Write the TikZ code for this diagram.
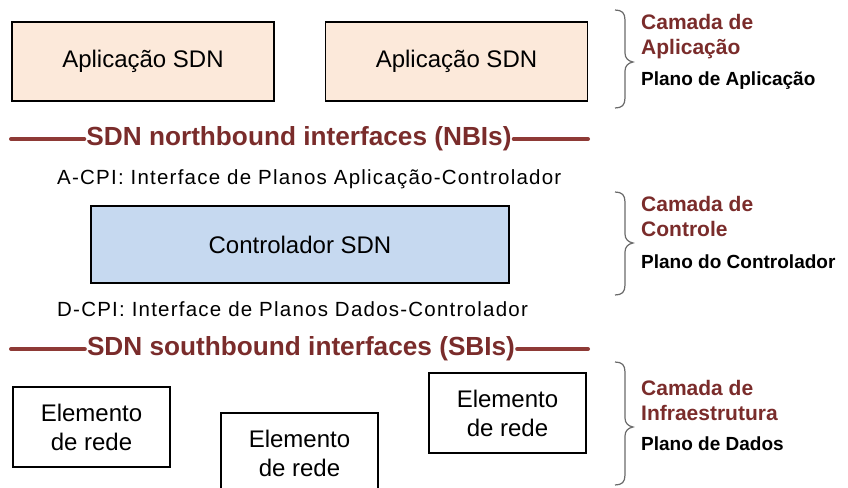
\documentclass[tikz,border=0pt]{standalone}
\usepackage{fontspec}
\setmainfont{Liberation Sans}
\definecolor{appfill}{HTML}{FCE9DA}
\definecolor{ctlfill}{HTML}{C6D9F0}
\definecolor{layerred}{HTML}{7A2C2B}
\definecolor{barred}{HTML}{8E3A36}
\definecolor{bracegray}{HTML}{6A6A6A}
\tikzset{
  boxbase/.style={draw=black, line width=1.5pt, inner sep=0pt, align=center},
  appbox/.style={boxbase, fill=appfill, minimum width=262pt, minimum height=79pt,
    font=\fontsize{24}{28}\selectfont},
  ctlbox/.style={boxbase, fill=ctlfill, minimum width=418pt, minimum height=77pt,
    font=\fontsize{24}{28}\selectfont},
  elembox/.style={boxbase, fill=white, minimum width=157pt, minimum height=80pt,
    font=\fontsize{24}{29}\selectfont},
  ifacetitle/.style={text=layerred, inner sep=2pt,
    font=\fontsize{26.2}{30}\selectfont\bfseries},
  ifacebar/.style={draw=barred, line width=4pt, line cap=round},
  cpitext/.style={anchor=west, inner sep=0pt,
    font=\fontsize{20.5}{24}\selectfont\addfontfeature{LetterSpace=6}},
  layername/.style={anchor=west, align=left, inner sep=0pt, text=layerred,
    font=\fontsize{21}{25}\selectfont\bfseries},
  planename/.style={anchor=west, inner sep=0pt,
    font=\fontsize{19}{23}\selectfont\bfseries},
  layerbrace/.style={draw=bracegray, line width=1.2pt}
}
\newcommand{\layerbrace}[3]{% top, tip, bottom (y values)
  \draw[layerbrace] (615,#1) .. controls (622,#1) and (625,#1+3) .. (625,#1+10)
    -- (625,#2-9) .. controls (625,#2-4) and (628,#2-1) .. (633,#2)
    .. controls (628,#2+1) and (625,#2+4) .. (625,#2+9)
    -- (625,#3-10) .. controls (625,#3-3) and (622,#3) .. (615,#3);}
\begin{document}
\begin{tikzpicture}[x=1pt,y=-1pt]
  \useasboundingbox (0,0) rectangle (848,487);

  % application layer
  \node[appbox] (app1) at (143,61.5) {Aplicação SDN};
  \node[appbox] (app2) at (456.5,61.5) {Aplicação SDN};

  % northbound interfaces
  \coordinate (nbiL) at (11,139);
  \coordinate (nbiR) at (588,139);
  \node[ifacetitle] (nbi) at (299,139) {SDN northbound interfaces (NBIs)};
  \draw[ifacebar] (nbiL) -- (nbi.west);
  \draw[ifacebar] (nbi.east) -- (nbiR);
  \node[cpitext] (acpi) at (57,179) {A-CPI: Interface de Planos Aplicação-Controlador};

  % control layer
  \node[ctlbox] (ctl) at (300,244.5) {Controlador SDN};
  \node[cpitext] (dcpi) at (57,309) {D-CPI: Interface de Planos Dados-Controlador};

  % southbound interfaces
  \coordinate (sbiL) at (11,349);
  \coordinate (sbiR) at (588,349);
  \node[ifacetitle] (sbi) at (301,349) {SDN southbound interfaces (SBIs)};
  \draw[ifacebar] (sbiL) -- (sbi.west);
  \draw[ifacebar] (sbi.east) -- (sbiR);

  % infrastructure layer
  \node[elembox] (ne1) at (91.5,427) {Elemento\\de rede};
  \node[elembox] (ne2) at (299.5,453) {Elemento\\de rede};
  \node[elembox] (ne3) at (507.5,413) {Elemento\\de rede};

  % layer braces and names
  \layerbrace{10}{62}{108}
  \layerbrace{192}{243}{295}
  \layerbrace{362}{427}{485}
  \node[layername] (lay1) at (641,37) {Camada de\\Aplicação};
  \node[planename] (pl1) at (641,81) {Plano de Aplicação};
  \node[layername] (lay2) at (641,216) {Camada de\\Controle};
  \node[planename] (pl2) at (641,262) {Plano do Controlador};
  \node[layername] (lay3) at (641,400) {Camada de\\Infraestrutura};
  \node[planename] (pl3) at (641,444) {Plano de Dados};
\end{tikzpicture}
\end{document}
